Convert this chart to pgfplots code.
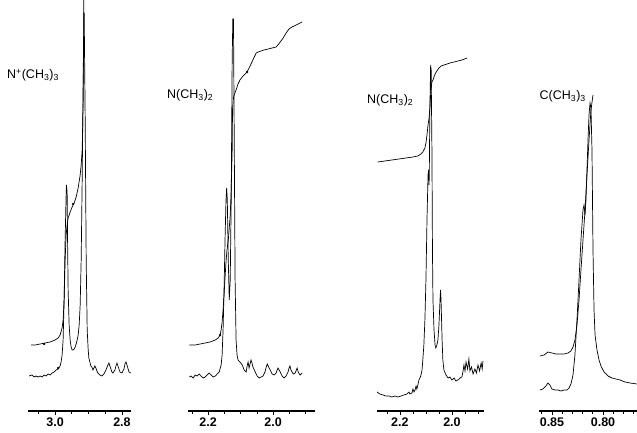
\documentclass[border=0pt]{standalone}
\usepackage{pgfplots}
\pgfplotsset{compat=1.18}
\usepackage{fontspec}
\setmainfont{Liberation Sans}
\pgfplotsset{nmr/.style={scale only axis, height=411pt, axis x line=bottom, axis y line=none,
  x dir=reverse, ymin=0, ymax=411,
  axis line style={line width=1.5pt,-}, every outer x axis line/.append style={-},
  tick style={black, line width=0.7pt}, major tick length=4pt, minor tick length=2.5pt,
  xtick align=outside,
  xticklabel style={font=\fontsize{12.5}{14}\selectfont\bfseries, inner sep=1pt, yshift=-1.5pt},
  clip=true},
  sp/.style={black, line width=0.7pt, mark=none}}
\begin{document}
\begin{tikzpicture}
\useasboundingbox (0pt,0pt) rectangle (637pt,432pt);
% Panel 1
\begin{axis}[nmr, at={(28pt,21pt)}, anchor=south west, width=103pt, xmin=2.773, xmax=3.081,
  xtick={2.8,3.0}, xticklabels={2.8,3.0}, minor xtick={2.85,2.9,2.95,3.05}]
\addplot[sp] coordinates {(3.078,35)(3.069,36)(3.063,34)(3.057,35)(3.051,34)(3.045,35)(3.039,34)(3.033,36)(3.027,35)(3.021,37)(3.015,36)(3.009,38)(3.003,39)(2.997,41)(2.991,42)(2.985,45)(2.982,49)(2.979,56)(2.976,71)(2.973,111)(2.970,171)(2.967,216)(2.966,226)(2.964,219)(2.963,181)(2.961,121)(2.958,86)(2.955,71)(2.952,64)(2.949,61)(2.946,61)(2.943,62)(2.940,64)(2.937,67)(2.934,71)(2.931,76)(2.928,86)(2.925,106)(2.922,151)(2.919,231)(2.916,331)(2.914,398)(2.913,398)(2.910,291)(2.907,151)(2.904,81)(2.901,61)(2.899,53)(2.896,49)(2.893,45)(2.890,44)(2.887,41)(2.884,43)(2.881,45)(2.878,43)(2.875,40)(2.872,38)(2.866,36)(2.860,35)(2.854,37)(2.848,41)(2.842,46)(2.839,48)(2.836,45)(2.830,39)(2.827,38)(2.821,41)(2.818,45)(2.815,48)(2.812,45)(2.806,39)(2.800,38)(2.794,42)(2.791,47)(2.788,49)(2.785,46)(2.779,39)(2.774,38)};
\addplot[sp] coordinates {(3.072,66)(3.060,66)(3.045,67)(3.030,68)(3.015,69)(3.000,71)(2.991,73)(2.985,76)(2.979,83)(2.976,91)(2.973,111)(2.970,151)(2.967,176)(2.964,186)(2.961,193)(2.955,199)(2.949,204)(2.943,208)(2.937,214)(2.931,223)(2.925,236)(2.922,246)(2.919,261)(2.916,311)(2.914,411)(2.913,431)};
\addplot[black, only marks, mark=*, mark size=1pt] coordinates {(3.033,67)(2.946,207)(2.991,43)};
\end{axis}
% Panel 2
\begin{axis}[nmr, at={(188pt,21pt)}, anchor=south west, width=127pt, xmin=1.871, xmax=2.262,
  xtick={2.0,2.2}, xticklabels={2.0,2.2}, minor xtick={1.9,1.95,2.05,2.1,2.15,2.25}]
\addplot[sp] coordinates {(2.258,34)(2.252,35)(2.246,33)(2.240,36)(2.234,35)(2.228,37)(2.222,35)(2.215,33)(2.209,34)(2.203,36)(2.197,38)(2.191,36)(2.185,34)(2.178,35)(2.172,37)(2.166,39)(2.160,46)(2.157,56)(2.154,81)(2.151,121)(2.148,171)(2.145,211)(2.143,223)(2.141,211)(2.138,151)(2.135,111)(2.132,131)(2.129,211)(2.126,351)(2.124,392)(2.122,392)(2.120,291)(2.117,131)(2.114,71)(2.111,56)(2.108,51)(2.102,49)(2.095,46)(2.089,41)(2.083,39)(2.080,45)(2.077,49)(2.074,43)(2.071,47)(2.068,51)(2.065,48)(2.062,44)(2.055,39)(2.049,35)(2.043,33)(2.037,34)(2.031,35)(2.025,39)(2.022,43)(2.018,47)(2.015,45)(2.009,41)(2.003,37)(1.997,36)(1.991,38)(1.985,43)(1.978,39)(1.972,35)(1.966,33)(1.960,35)(1.954,39)(1.951,43)(1.948,45)(1.945,41)(1.938,37)(1.932,38)(1.926,43)(1.923,39)(1.917,36)(1.911,38)};
\addplot[sp] coordinates {(2.258,66)(2.240,66)(2.225,67)(2.209,68)(2.194,69)(2.178,71)(2.169,73)(2.163,76)(2.160,81)(2.157,89)(2.154,101)(2.151,116)(2.148,133)(2.145,149)(2.142,161)(2.138,171)(2.135,183)(2.132,196)(2.129,221)(2.126,261)(2.125,301)(2.123,311)(2.120,316)(2.114,321)(2.108,327)(2.102,331)(2.095,334)(2.089,336)(2.083,338)(2.077,341)(2.071,345)(2.065,349)(2.058,354)(2.052,358)(2.046,359)(2.037,360)(2.028,361)(2.015,362)(2.003,363)(1.991,364)(1.985,366)(1.978,369)(1.969,373)(1.960,378)(1.951,382)(1.942,384)(1.929,386)(1.917,388)(1.911,389)};
\addplot[black, only marks, mark=*, mark size=1pt] coordinates {(2.080,339)(2.163,76)};
\end{axis}
% Panel 3
\begin{axis}[nmr, at={(377pt,21pt)}, anchor=south west, width=107pt, xmin=1.877, xmax=2.288,
  xtick={2.0,2.2}, xticklabels={2.0,2.2}, minor xtick={1.9,1.95,2.05,2.1,2.15,2.25}]
\addplot[sp] coordinates {(2.288,19)(2.277,17)(2.265,16)(2.254,15)(2.242,15)(2.231,14)(2.219,15)(2.208,14)(2.196,15)(2.185,16)(2.173,17)(2.165,19)(2.162,17)(2.154,18)(2.150,22)(2.146,19)(2.142,21)(2.138,25)(2.135,22)(2.131,26)(2.127,31)(2.123,33)(2.119,36)(2.115,41)(2.112,51)(2.108,66)(2.104,91)(2.100,131)(2.096,191)(2.092,236)(2.090,241)(2.088,226)(2.087,241)(2.085,301)(2.082,346)(2.080,341)(2.077,261)(2.075,161)(2.073,111)(2.069,81)(2.065,66)(2.062,63)(2.058,66)(2.054,71)(2.050,86)(2.046,111)(2.044,121)(2.042,111)(2.038,71)(2.035,51)(2.031,41)(2.023,36)(2.015,33)(2.008,34)(2.000,31)(1.992,33)(1.985,30)(1.977,31)(1.969,33)(1.962,34)(1.958,39)(1.954,46)(1.950,40)(1.946,49)(1.940,42)(1.935,52)(1.931,40)(1.925,44)(1.919,37)(1.912,42)(1.906,38)(1.900,46)(1.894,40)(1.888,48)(1.884,42)(1.881,50)};
\addplot[sp] coordinates {(2.285,249)(2.258,250)(2.231,251)(2.204,252)(2.177,253)(2.150,254)(2.131,255)(2.119,257)(2.112,259)(2.104,263)(2.100,268)(2.096,276)(2.092,286)(2.088,293)(2.085,303)(2.081,321)(2.077,329)(2.073,331)(2.069,334)(2.065,337)(2.058,340)(2.050,343)(2.042,345)(2.031,346)(2.019,347)(2.008,348)(1.992,349)(1.977,350)(1.962,351)(1.942,353)};
\end{axis}
% Panel 4
\begin{axis}[nmr, at={(539pt,21pt)}, anchor=south west, width=98pt, xmin=0.7667, xmax=0.8627,
  xtick={0.80,0.85}, xticklabels={0.80,0.85}, minor xtick={0.77,0.78,0.79,0.81,0.82,0.83,0.84,0.86}]
\addplot[sp] coordinates {(0.8618,21)(0.8588,22)(0.8559,25)(0.8539,28)(0.8520,26)(0.8500,22)(0.8471,21)(0.8441,21)(0.8412,20)(0.8382,21)(0.8353,21)(0.8333,23)(0.8314,27)(0.8294,36)(0.8275,56)(0.8255,91)(0.8235,131)(0.8216,171)(0.8196,201)(0.8186,206)(0.8176,196)(0.8167,211)(0.8157,241)(0.8147,271)(0.8137,296)(0.8127,308)(0.8118,303)(0.8108,261)(0.8098,161)(0.8088,101)(0.8078,76)(0.8059,61)(0.8039,51)(0.8020,45)(0.7990,39)(0.7951,35)(0.7912,33)(0.7873,32)(0.7833,31)(0.7784,29)(0.7735,28)(0.7667,27)};
\addplot[sp] coordinates {(0.8618,55)(0.8578,56)(0.8539,59)(0.8500,58)(0.8461,57)(0.8422,57)(0.8382,57)(0.8343,58)(0.8314,60)(0.8294,64)(0.8275,71)(0.8255,86)(0.8235,111)(0.8216,141)(0.8196,171)(0.8176,201)(0.8157,236)(0.8137,271)(0.8118,301)(0.8098,316)};
\end{axis}
% Labels
\node[anchor=west, inner sep=0pt, font=\fontsize{12.5}{14}\selectfont] at (7pt,357pt) {N\textsuperscript{+}(CH\textsubscript{3})\textsubscript{3}};
\node[anchor=west, inner sep=0pt, font=\fontsize{12.5}{14}\selectfont] at (167pt,337pt) {N(CH\textsubscript{3})\textsubscript{2}};
\node[anchor=west, inner sep=0pt, font=\fontsize{12.5}{14}\selectfont] at (367pt,332pt) {N(CH\textsubscript{3})\textsubscript{2}};
\node[anchor=east, inner sep=0pt, font=\fontsize{12.5}{14}\selectfont] at (586pt,336pt) {C(CH\textsubscript{3})\textsubscript{3}};
\end{tikzpicture}
\end{document}
